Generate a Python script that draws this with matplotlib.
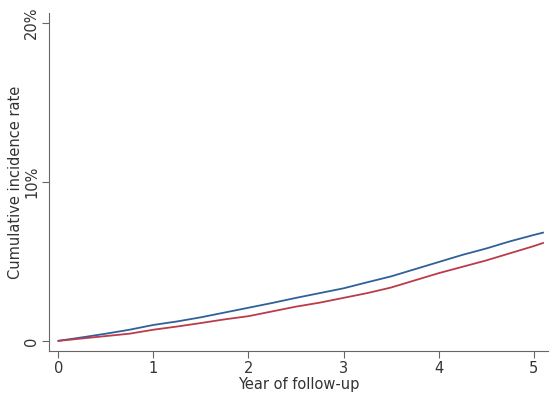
import matplotlib
matplotlib.use("Agg")
import matplotlib.pyplot as plt

# Follow-up years and cumulative incidence (%)
years = [0, 0.25, 0.5, 0.75, 1.0, 1.25, 1.5, 1.75, 2.0, 2.25, 2.5, 2.75,
         3.0, 3.25, 3.5, 3.75, 4.0, 4.25, 4.5, 4.75, 5.0, 5.1]
blue_rate = [0, 0.22, 0.45, 0.70, 1.00, 1.22, 1.48, 1.78, 2.08, 2.38, 2.70, 3.00,
             3.30, 3.68, 4.05, 4.50, 4.95, 5.40, 5.80, 6.25, 6.65, 6.80]
red_rate = [0, 0.15, 0.30, 0.45, 0.70, 0.90, 1.12, 1.35, 1.55, 1.85, 2.15, 2.40,
            2.70, 3.00, 3.35, 3.80, 4.25, 4.65, 5.05, 5.50, 5.95, 6.15]

x_ticks = [0, 1, 2, 3, 4, 5]
y_ticks = [0, 10, 20]
y_labels = ["0", "10%", "20%"]

fig = plt.figure(figsize=(5.5, 3.96), dpi=100)
ax = fig.add_axes([0.089, 0.114, 0.907, 0.853])

ax.plot(years, blue_rate, color="#30609a", linewidth=1.3)
ax.plot(years, red_rate, color="#bb3b4c", linewidth=1.3)

ax.set_xlim(-0.10, 5.15)
ax.set_ylim(-0.63, 20.6)
ax.set_xticks(x_ticks)
ax.set_yticks(y_ticks)
ax.set_yticklabels(y_labels, rotation=90, va="center")

ax.set_xlabel("Year of follow-up", fontsize=10.5, color="#333333", labelpad=1)
ax.set_ylabel("Cumulative incidence rate", fontsize=10.5, color="#333333", labelpad=1)

for side in ["top", "right"]:
    ax.spines[side].set_visible(False)
for side in ["left", "bottom"]:
    ax.spines[side].set_color("#666666")
ax.tick_params(axis="both", length=5, color="#666666", labelsize=10.5,
               labelcolor="#333333", pad=2)

fig.savefig("out.png", dpi=100)
